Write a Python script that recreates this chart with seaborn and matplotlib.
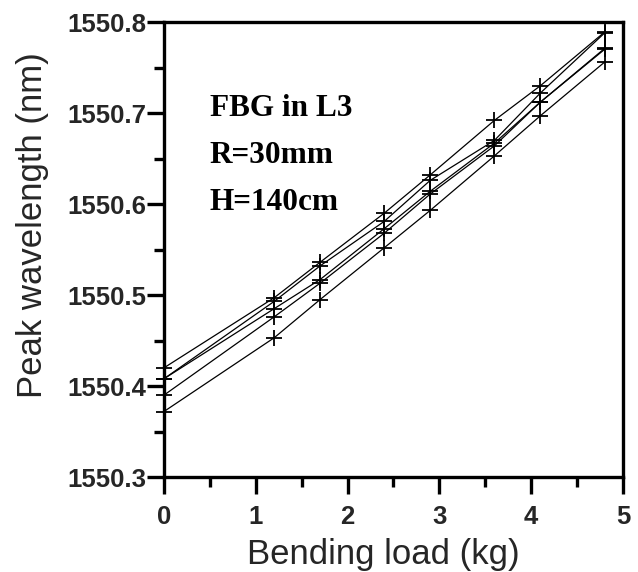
import numpy as np
import pandas as pd
import seaborn as sns
import matplotlib.pyplot as plt
from matplotlib.ticker import MultipleLocator

# Bending load (kg) at which each spectrum was recorded
load = [0, 1.2, 1.7, 2.4, 2.9, 3.6, 4.1, 4.8]

# Peak wavelength (nm) for each repeated measurement run
run1 = [1550.420, 1550.497, 1550.536, 1550.590, 1550.632, 1550.692, 1550.730, 1550.789]
run2 = [1550.408, 1550.493, 1550.532, 1550.581, 1550.626, 1550.670, 1550.722, 1550.788]
run3 = [1550.408, 1550.485, 1550.517, 1550.573, 1550.614, 1550.667, 1550.712, 1550.771]
run4 = [1550.390, 1550.476, 1550.513, 1550.568, 1550.611, 1550.664, 1550.712, 1550.770]
run5 = [1550.372, 1550.453, 1550.495, 1550.552, 1550.593, 1550.653, 1550.697, 1550.756]

runs = {"run1": run1, "run2": run2, "run3": run3, "run4": run4, "run5": run5}

x_ticks = [0, 1, 2, 3, 4, 5]
y_ticks = [1550.3, 1550.4, 1550.5, 1550.6, 1550.7, 1550.8]
notes = ["FBG in L3", "R=30mm", "H=140cm"]

df = pd.concat(
    [pd.DataFrame({"load": load, "wavelength": v, "run": k}) for k, v in runs.items()],
    ignore_index=True,
)

sns.set_theme(style="white")
plt.rcParams["font.family"] = ["Liberation Sans", "DejaVu Sans"]

fig = plt.figure(figsize=(6.38, 5.72), dpi=100)
ax = fig.add_axes([0.257, 0.166, 0.7195, 0.7955])

for name, sub in df.groupby("run", sort=False):
    sns.lineplot(
        data=sub, x="load", y="wavelength", ax=ax,
        color="black", linewidth=0.9, marker="+", markersize=12,
        markeredgewidth=1.3, markeredgecolor="black", clip_on=False,
        estimator=None, sort=False, legend=False,
    )

ax.set_xlim(0, 5)
ax.set_ylim(1550.3, 1550.8)
ax.set_xticks(x_ticks)
ax.set_yticks(y_ticks)
ax.set_xticklabels([str(t) for t in x_ticks])
ax.set_yticklabels([f"{t:.1f}" for t in y_ticks])
ax.xaxis.set_minor_locator(MultipleLocator(0.5))
ax.yaxis.set_minor_locator(MultipleLocator(0.05))

ax.tick_params(axis="both", which="major", direction="out", length=12, width=2.4,
               color="black", labelsize=18.5, pad=1, bottom=True, left=True)
ax.tick_params(axis="x", which="major", pad=8)
ax.tick_params(axis="both", which="minor", direction="out", length=7, width=2.4,
               color="black", bottom=True, left=True)
for lbl in ax.get_xticklabels() + ax.get_yticklabels():
    lbl.set_fontweight("bold")

for side in ["left", "right", "top", "bottom"]:
    ax.spines[side].set_visible(True)
    ax.spines[side].set_color("black")
    ax.spines[side].set_linewidth(2.4)

ax.set_xlabel("Bending load (kg)", fontsize=25, labelpad=0)
ax.set_ylabel("Peak wavelength (nm)", fontsize=25)
ax.xaxis.set_label_coords(0.478, -0.133)
ax.yaxis.set_label_coords(-0.25, 0.553)
ax.grid(False)

for i, txt in enumerate(notes):
    ax.text(0.5, 1550.705 - i * 0.0515, txt, fontsize=22.5, fontweight="bold",
            family=["Liberation Serif", "DejaVu Serif"], va="center", ha="left",
            color="black")

fig.savefig("out.png", dpi=100, facecolor="white")
